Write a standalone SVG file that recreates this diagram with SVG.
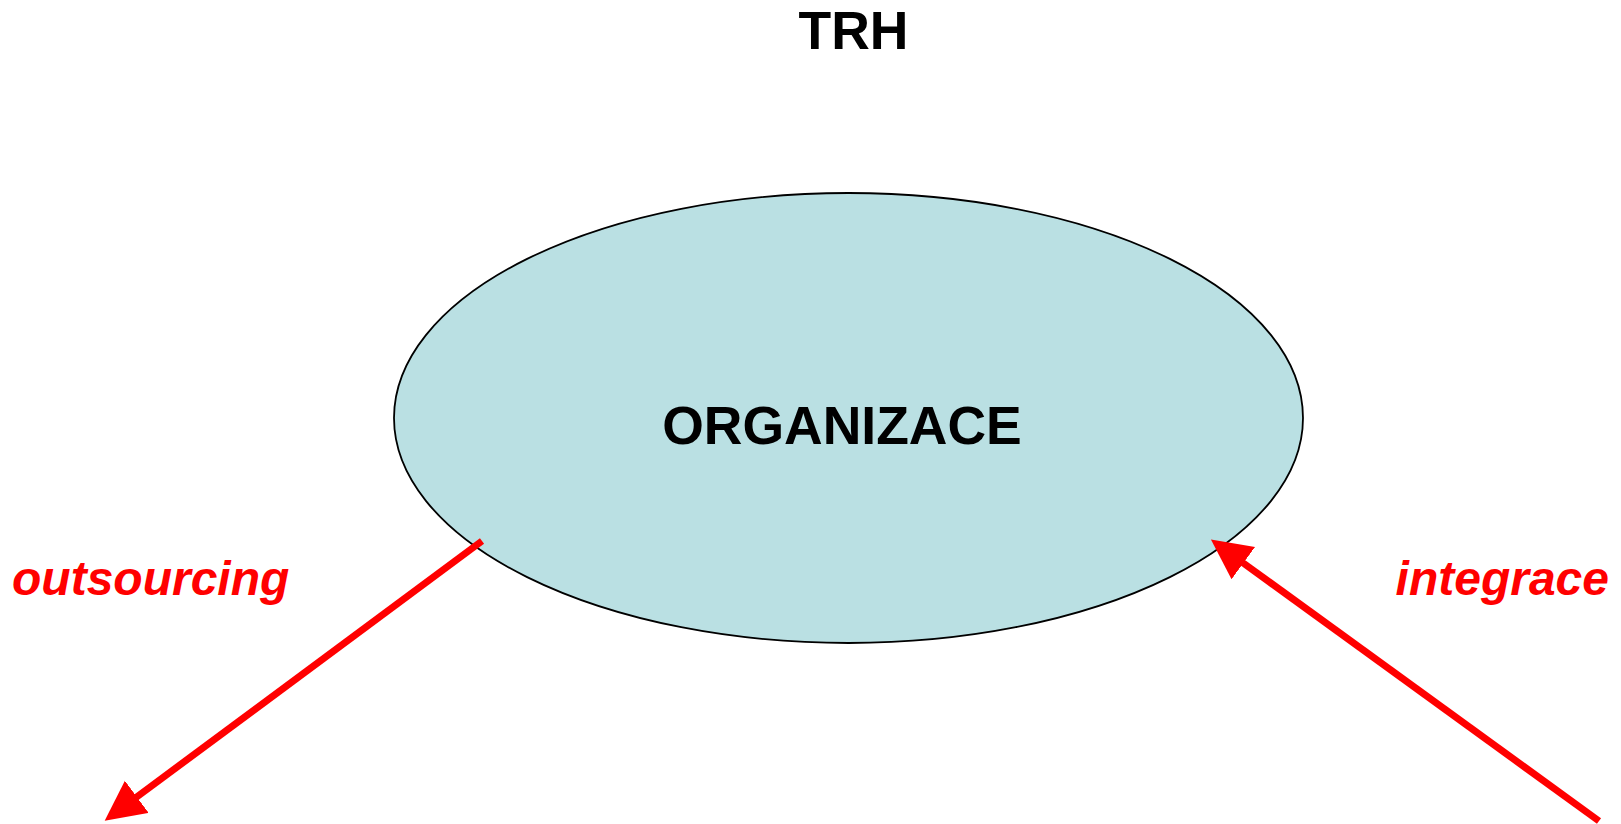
<svg xmlns="http://www.w3.org/2000/svg" width="1621" height="824" viewBox="0 0 1621 824">
  <style>
    .title { font-family: "Liberation Sans", Arial, sans-serif; font-weight: bold; font-size: 53.5px; fill: #000000; }
    .label { font-family: "Liberation Sans", Arial, sans-serif; font-weight: bold; font-style: italic; font-size: 48px; fill: #FF0000; }
    .conn { stroke: #FF0000; stroke-width: 7; fill: none; }
  </style>
  <defs>
    <marker id="arrow" markerUnits="userSpaceOnUse" markerWidth="42" markerHeight="42" refX="1" refY="20" orient="auto" viewBox="0 0 42 42">
      <path d="M0,0 L40,20 L0,40 z" fill="#FF0000"/>
    </marker>
  </defs>
  <rect x="0" y="0" width="1621" height="824" fill="#FFFFFF"/>
  <g id="trh">
    <text class="title" x="853.5" y="49" text-anchor="middle">TRH</text>
  </g>
  <g id="organizace">
    <ellipse cx="848.5" cy="418" rx="454.5" ry="225" fill="#BAE0E3" stroke="#000000" stroke-width="1.8"/>
    <text class="title" x="842" y="443.5" text-anchor="middle">ORGANIZACE</text>
  </g>
  <g id="connectors">
    <line class="conn" x1="482" y1="541" x2="136" y2="797.5" marker-end="url(#arrow)"/>
    <line class="conn" x1="1599" y1="821" x2="1242.5" y2="562.5" marker-end="url(#arrow)"/>
  </g>
  <g id="label-outsourcing">
    <text class="label" x="12" y="595">outsourcing</text>
  </g>
  <g id="label-integrace">
    <text class="label" x="1609" y="595" text-anchor="end">integrace</text>
  </g>
</svg>
